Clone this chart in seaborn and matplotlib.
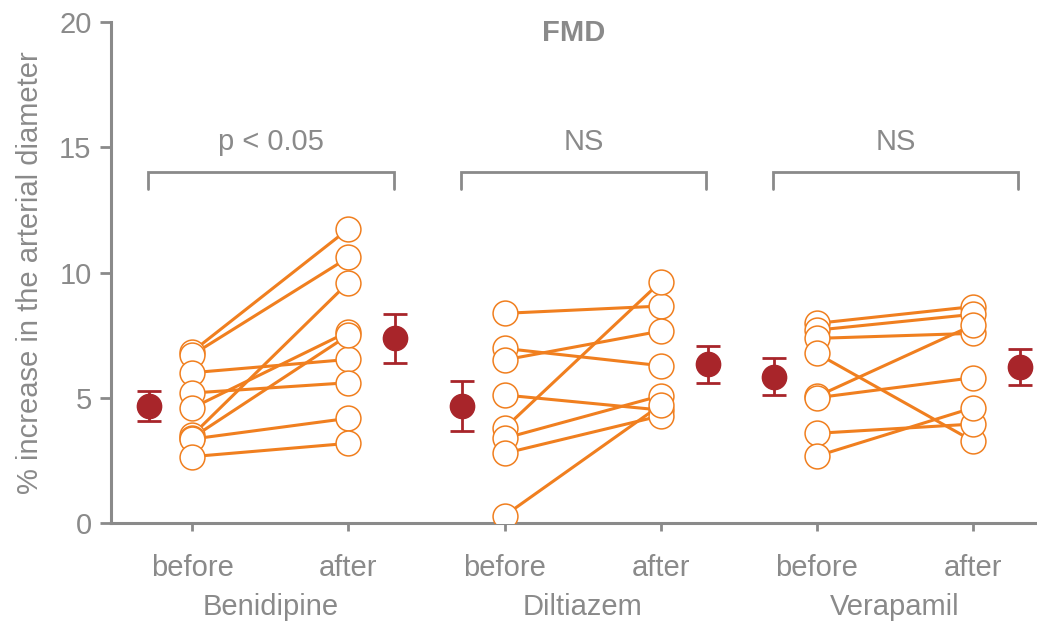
import numpy as np
import pandas as pd
import matplotlib
matplotlib.use("Agg")
import matplotlib.pyplot as plt
import matplotlib.transforms as mtransforms
import seaborn as sns

# ---------------- data ----------------
drugs = ["Benidipine", "Diltiazem", "Verapamil"]
phases = ["before", "after"]

beni_before = [6.84, 6.71, 6.00, 5.19, 4.59, 3.50, 3.40, 3.35, 2.65]
beni_after = [11.74, 10.60, 6.53, 5.60, 7.64, 9.60, 7.50, 4.18, 3.18]

dilt_before = [8.37, 6.97, 6.51, 5.11, 3.78, 3.38, 2.78, 0.29]
dilt_after = [8.66, 6.28, 7.66, 4.51, 9.63, 5.08, 4.28, 4.71]

vera_before = [7.97, 7.70, 7.37, 6.77, 5.05, 5.00, 3.58, 2.67]
vera_after = [8.64, 8.33, 7.57, 3.27, 7.90, 5.80, 3.95, 4.60]

mean_before = [4.67, 4.67, 5.84]
err_before = [0.58, 0.99, 0.74]
mean_after = [7.37, 6.33, 6.21]
err_after = [0.99, 0.73, 0.72]

significance = ["p < 0.05", "NS", "NS"]
title = "FMD"
ylabel = "% increase in the arterial diameter"
yticks = [0, 5, 10, 15, 20]

# ---------------- styling ----------------
ORANGE = "#F07F1F"
DARKRED = "#A8252A"
GREY = "#8A8A8A"
FS = 21

sns.set_theme(style="white")
plt.rcParams["font.family"] = ["Liberation Sans", "DejaVu Sans"]

pairs = [(beni_before, beni_after), (dilt_before, dilt_after), (vera_before, vera_after)]
rows = []
for g, (drug, (bef, aft)) in enumerate(zip(drugs, pairs)):
    for i, (b, a) in enumerate(zip(bef, aft)):
        uid = f"{drug}_{i}"
        rows.append(dict(drug=drug, uid=uid, phase="before", x=2 * g + 0, value=b))
        rows.append(dict(drug=drug, uid=uid, phase="after", x=2 * g + 1, value=a))
df = pd.DataFrame(rows)

fig = plt.figure(figsize=(10.37, 6.23), dpi=100)
ax = fig.add_axes([111 / 1037, 1 - 523 / 623, 1 - 111 / 1037, (523 - 22) / 623])

sns.lineplot(data=df, x="x", y="value", units="uid", estimator=None,
             color=ORANGE, linewidth=2.2, ax=ax, legend=False, zorder=2)
sns.scatterplot(data=df, x="x", y="value", s=320, facecolor="white",
                edgecolor=ORANGE, linewidth=1.1, ax=ax, legend=False, zorder=3)

mx_before = [2 * g - 0.275 for g in range(3)]
mx_after = [2 * g + 1.30 for g in range(3)]
for xs, ms, es in [(mx_before, mean_before, err_before), (mx_after, mean_after, err_after)]:
    ax.errorbar(xs, ms, yerr=es, fmt="o", color=DARKRED, markersize=17.5,
                elinewidth=2.0, capsize=8.5, capthick=2.0, zorder=4)

# brackets and significance text
for g, s in enumerate(significance):
    x0, x1 = 2 * g - 0.28, 2 * g + 1.29
    ax.plot([x0, x0, x1, x1], [13.32, 14.02, 14.02, 13.32], color=GREY,
            linewidth=2.0, solid_joinstyle="miter", zorder=1)
    ax.text((x0 + x1) / 2, 15.2, s, ha="center", va="center", fontsize=FS, color=GREY)

ax.text(574 / 1037, 1 - 32.7 / 623, title, transform=fig.transFigure, ha="center",
        va="center", fontsize=FS, fontweight="bold", color=GREY)

# axes
ax.set_xlim(-0.52, 5.41)
ax.set_ylim(0, 20)
ax.set_yticks(yticks)
ax.set_yticklabels([str(t) for t in yticks])
ax.set_xticks(range(6))
ax.set_xticklabels(phases * 3)
ax.set_xlabel("")
ax.set_ylabel(ylabel, fontsize=FS, color=GREY, labelpad=11)

for sp in ["top", "right"]:
    ax.spines[sp].set_visible(False)
for sp in ["left", "bottom"]:
    ax.spines[sp].set_color(GREY)
    ax.spines[sp].set_linewidth(2.2)
ax.tick_params(axis="y", direction="out", length=8, width=2.0, colors=GREY,
               labelsize=FS, pad=6, left=True)
ax.tick_params(axis="x", direction="out", length=6, width=2.0, colors=GREY,
               labelsize=FS, pad=16, bottom=True)

trans = mtransforms.blended_transform_factory(ax.transData, fig.transFigure)
for g, drug in enumerate(drugs):
    ax.text(2 * g + 0.5, 1 - 607 / 623, drug, transform=trans, ha="center",
            va="center", fontsize=FS, color=GREY)

fig.savefig("out.png", dpi=100)
